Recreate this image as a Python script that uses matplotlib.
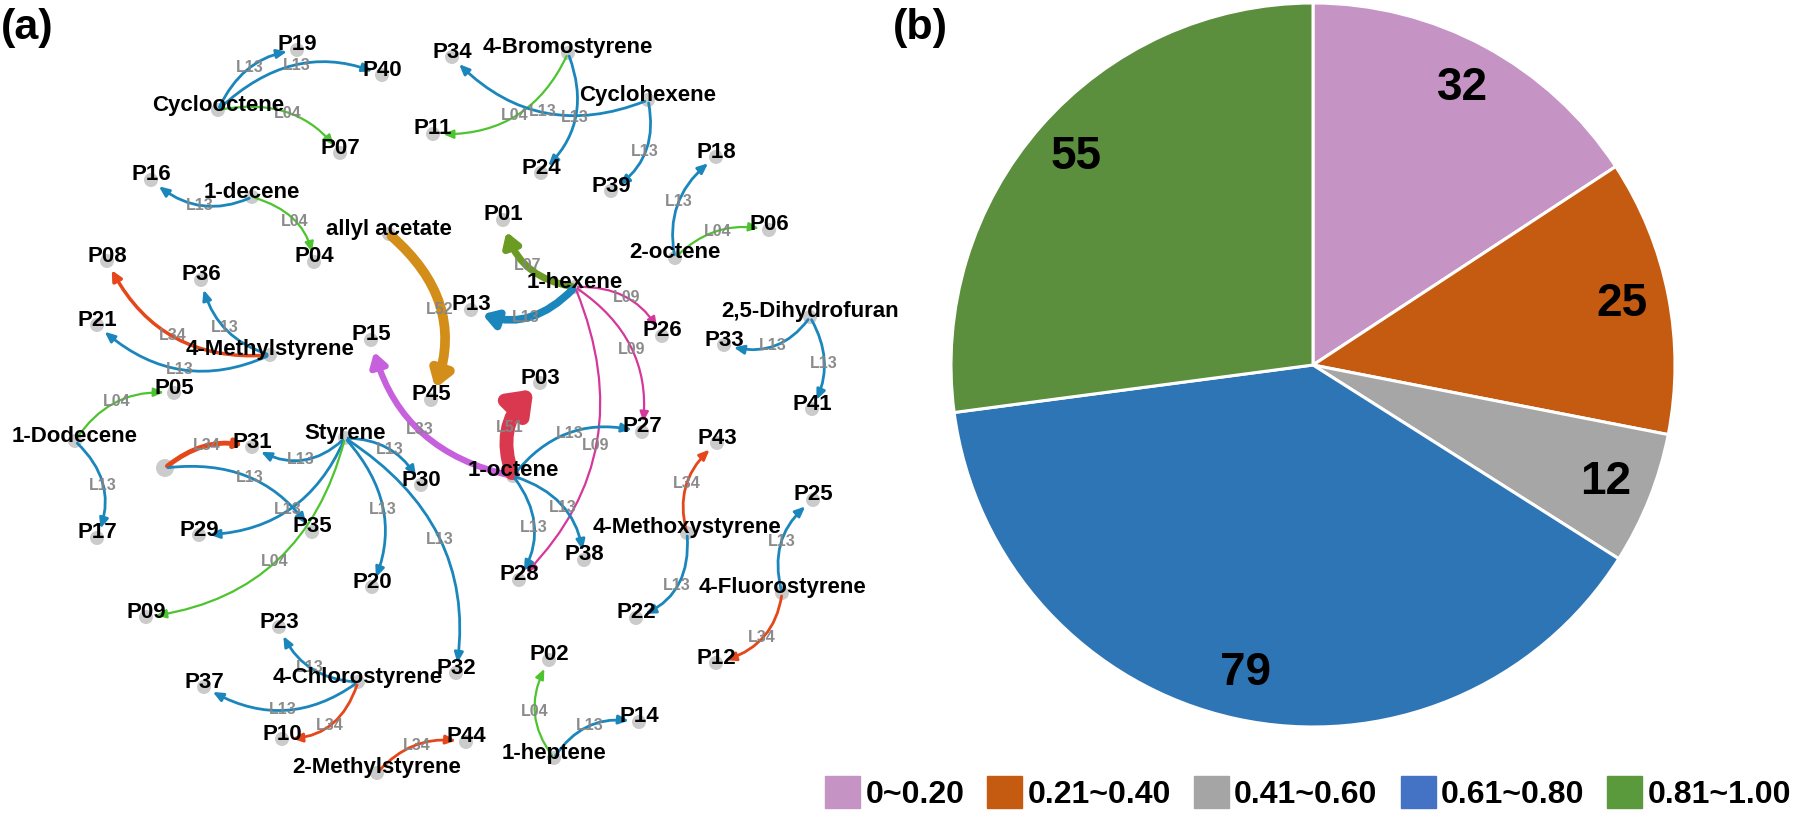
import numpy as np
import matplotlib.pyplot as plt
from matplotlib.patches import FancyArrowPatch, Circle, Patch
from matplotlib.path import Path

plt.rcParams['font.family'] = ['Liberation Sans', 'DejaVu Sans']

# ---------------- (a) reaction network ----------------
node_names = ['P19', 'P40', 'Cyclooctene', 'P07', 'P16', '1-decene', 'P04', 'allyl acetate',
              'P08', 'P36', 'P34', '4-Bromostyrene', 'Cyclohexene', 'P11', 'P24', 'P39',
              'P18', 'P06', '2-octene', 'P01', '1-hexene', 'P21', '4-Methylstyrene', 'P15',
              'P45', 'P05', '1-Dodecene', 'Styrene', 'P31', '', 'P30', 'P29', 'P35', 'P17',
              'P13', 'P26', 'P33', '2,5-Dihydrofuran', 'P41', 'P03', 'P27', '1-octene', 'P43',
              '4-Methoxystyrene', 'P38', 'P28', 'P22', '4-Fluorostyrene', 'P25', 'P12', 'P20',
              'P09', 'P23', 'P37', '4-Chlorostyrene', 'P32', 'P10', '2-Methylstyrene', 'P44',
              'P02', '1-heptene', 'P14']
node_x = [297, 382, 218, 340, 151, 252, 314, 389, 107, 201, 452, 568, 648, 433, 541, 611,
          716, 769, 675, 503, 575, 97, 270, 371, 431, 174, 75, 345, 252, 165, 421, 199, 312, 97,
          471, 662, 724, 810, 812, 540, 642, 513, 717, 687, 584, 519, 636, 782, 813, 716, 372,
          146, 279, 204, 358, 456, 282, 377, 466, 549, 554, 639]
node_y = [50, 75, 110, 153, 180, 197, 262, 234, 261, 280, 57, 53, 100, 134, 173, 191,
          157, 230, 258, 220, 287, 325, 355, 340, 400, 393, 441, 438, 447, 468, 485, 535, 532, 538,
          310, 336, 345, 317, 409, 383, 432, 476, 443, 533, 560, 580, 618, 593, 500, 663, 587,
          617, 627, 687, 682, 673, 739, 773, 742, 660, 758, 722]

edge_src = ['Cyclooctene', 'Cyclooctene', 'Cyclooctene', '1-decene', '1-decene',
            '4-Bromostyrene', '4-Bromostyrene', 'Cyclohexene', 'Cyclohexene', '2-octene', '2-octene',
            '1-hexene', '1-hexene', '1-hexene', '1-hexene', '1-hexene', 'allyl acetate',
            '1-octene', '1-octene', '1-octene', '1-octene', '1-octene',
            'Styrene', 'Styrene', 'Styrene', 'Styrene', 'Styrene', 'Styrene', '', '',
            '4-Methylstyrene', '4-Methylstyrene', '4-Methylstyrene', '1-Dodecene', '1-Dodecene',
            '2,5-Dihydrofuran', '2,5-Dihydrofuran', '4-Methoxystyrene', '4-Methoxystyrene',
            '4-Fluorostyrene', '4-Fluorostyrene', '4-Chlorostyrene', '4-Chlorostyrene',
            '4-Chlorostyrene', '2-Methylstyrene', '1-heptene', '1-heptene']
edge_dst = ['P19', 'P40', 'P07', 'P16', 'P04', 'P11', 'P24', 'P34', 'P39', 'P18', 'P06',
            'P01', 'P13', 'P26', 'P27', 'P28', 'P45', 'P15', 'P03', 'P27', 'P38', 'P28',
            'P31', 'P29', 'P09', 'P20', 'P30', 'P32', 'P31', 'P35', 'P08', 'P36', 'P21',
            'P05', 'P17', 'P33', 'P41', 'P43', 'P22', 'P25', 'P12', 'P23', 'P37', 'P10',
            'P44', 'P02', 'P14']
edge_code = ['L13', 'L13', 'L04', 'L13', 'L04', 'L04', 'L13', 'L13', 'L13', 'L13', 'L04',
             'L07', 'L13', 'L09', 'L09', 'L09', 'L52', 'L33', 'L51', 'L13', 'L13', 'L13',
             'L13', 'L13', 'L04', 'L13', 'L13', 'L13', 'L34', 'L13', 'L34', 'L13', 'L13',
             'L04', 'L13', 'L13', 'L13', 'L34', 'L13', 'L13', 'L34', 'L13', 'L13', 'L34',
             'L34', 'L04', 'L13']
# edge label = middle of the curve
edge_mx = [250, 297, 288, 200, 295, 515, 575, 543, 645, 679, 718, 528, 526, 627, 632, 596,
           440, 420, 510, 570, 563, 534, 301, 288, 275, 383, 390, 440, 207, 250, 173, 225,
           180, 117, 103, 773, 824, 687, 677, 782, 762, 310, 283, 330, 417, 535, 590]
edge_my = [68, 65, 113, 205, 221, 116, 118, 112, 152, 202, 231, 266, 317, 298, 350, 445,
           310, 430, 427, 433, 507, 527, 460, 510, 562, 510, 450, 540, 446, 478, 336, 328,
           369, 402, 486, 346, 363, 484, 586, 541, 638, 667, 710, 725, 745, 711, 726]

code_color = {'L13': '#1A86BC', 'L04': '#4DC42F', 'L34': '#E5471A', 'L09': '#D5379B',
              'L07': '#6B9B22', 'L52': '#D38E19', 'L33': '#C660DD', 'L51': '#D9384E'}
code_lw = {'L13': 2.0, 'L04': 1.6, 'L34': 2.0, 'L09': 1.6}
# (line width, head length, head width) for the heavy edges
heavy = {('1-hexene', 'P01'): (5, 8, 5), ('1-hexene', 'P13'): (5.5, 8, 5),
         ('allyl acetate', 'P45'): (7, 9, 6), ('1-octene', 'P15'): (4.5, 8, 5),
         ('1-octene', 'P03'): (10, 12, 9), ('', 'P31'): (3.5, 4, 2.5),
         ('4-Methylstyrene', 'P08'): (2.5, 6, 3)}

# ---------------- (b) pie ----------------
pie_vals = [32, 25, 12, 79, 55]
pie_colors = ['#C594C5', '#C55A11', '#A6A6A6', '#2E75B6', '#5B8E3D']
leg_labels = ['0~0.20', '0.21~0.40', '0.41~0.60', '0.61~0.80', '0.81~1.00']
leg_colors = ['#C594C5', '#C55A11', '#A5A5A5', '#4472C4', '#5A9A3C']


def bez(p0, c, p2, t):
    return (1 - t) ** 2 * p0 + 2 * (1 - t) * t * c + t ** 2 * p2


def draw_edge(ax, s, e, m, color, lw, hl, hw, shrink_e=11, shrink_s=3):
    s, e, m = np.array(s, float), np.array(e, float), np.array(m, float)
    c = 2 * m - (s + e) / 2
    ts = np.linspace(0, 1, 500)
    pts = bez(s, c, e, ts[:, None])
    a = ts[np.argmax(np.hypot(*(pts - s).T) > shrink_s)]
    b = ts[np.where(np.hypot(*(pts - e).T) > shrink_e)[0][-1]]
    q0 = bez(s, c, e, a)
    q2 = bez(s, c, e, b)
    qc = (1 - a) * (1 - b) * s + ((1 - a) * b + a * (1 - b)) * c + a * b * e
    path = Path([q0, qc, q2], [Path.MOVETO, Path.CURVE3, Path.CURVE3])
    arr = FancyArrowPatch(path=path, arrowstyle=f'-|>,head_length={hl},head_width={hw}',
                          lw=lw, color=color, mutation_scale=1, zorder=2)
    ax.add_patch(arr)


W, H = 1801, 815
fig = plt.figure(figsize=(W / 100, H / 100), dpi=100)

ax = fig.add_axes([0, 0, 900 / W, 1])
ax.set_xlim(0, 900)
ax.set_ylim(H, 0)
ax.axis('off')

pos = {n: (x, y) for n, x, y in zip(node_names, node_x, node_y)}
for n, x, y in zip(node_names, node_x, node_y):
    r = 9 if n == '' else 7
    ax.add_patch(Circle((x, y), r, color='#CBCBCB', zorder=1, lw=0))
    ax.text(x, y - 5, n, ha='center', va='center', fontsize=16, fontweight='bold',
            color='black', zorder=5)

for s, d, code, mx, my in zip(edge_src, edge_dst, edge_code, edge_mx, edge_my):
    lw, hl, hw = heavy.get((s, d), (code_lw.get(code, 2.0), 6, 2.6))
    shrink = 9 if lw >= 10 else (12 if lw > 4 else 10)
    draw_edge(ax, pos[s], pos[d], (mx, my), code_color[code], lw, hl, hw, shrink_e=shrink)
    ax.text(mx, my, code, ha='center', va='center', fontsize=11.5, fontweight='bold',
            color='#858585', alpha=0.95, zorder=4)

# pie
ax2 = fig.add_axes([951 / W, 88 / H, 724 / W, 724 / H])
total = sum(pie_vals)
ax2.pie(pie_vals, colors=pie_colors, startangle=90, counterclock=False,
        wedgeprops=dict(edgecolor='white', linewidth=2.2),
        autopct=lambda p: f'{p * total / 100:.0f}', pctdistance=0.87,
        textprops=dict(fontsize=33, fontweight='bold', color='black'))
ax2.set_xlim(-1, 1)
ax2.set_ylim(-1, 1)

handles = [Patch(facecolor=c, edgecolor=c) for c in leg_colors]
fig.legend(handles, leg_labels, loc='center', bbox_to_anchor=(1308 / W, 22 / H), ncol=5,
           frameon=False, prop=dict(size=23, weight='bold'), handlelength=1.1,
           handleheight=1.15, handletextpad=0.16, columnspacing=0.72,
           borderpad=0, borderaxespad=0)

fig.text(1 / W, 1 - 28 / H, '(a)', fontsize=31, fontweight='bold', ha='left', va='center')
fig.text(893 / W, 1 - 28 / H, '(b)', fontsize=31, fontweight='bold', ha='left', va='center')

fig.savefig('out.png', dpi=100)
